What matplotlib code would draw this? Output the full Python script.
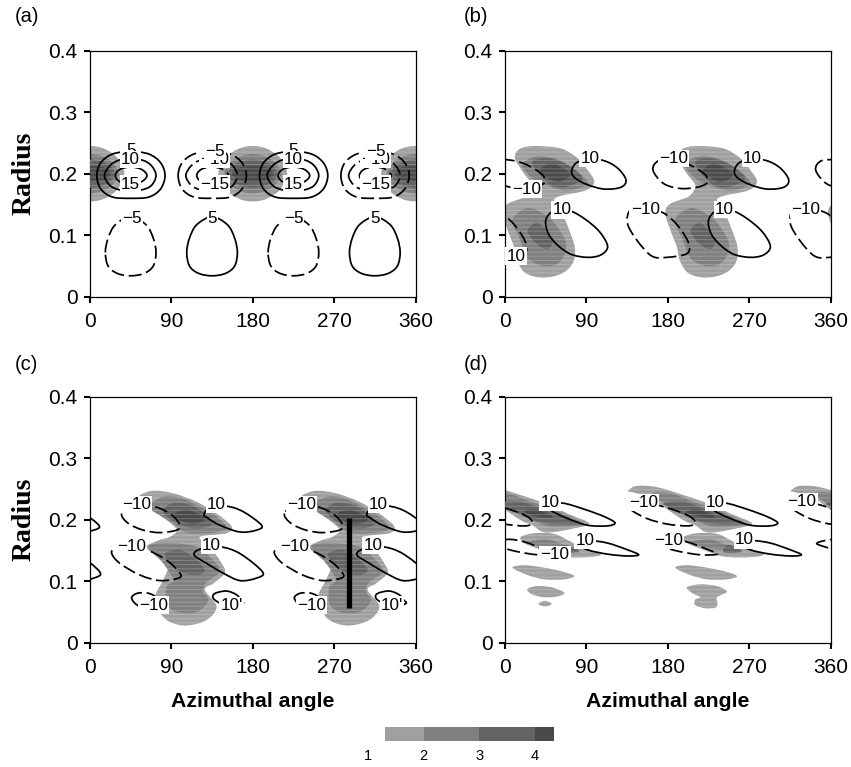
import numpy as np
import matplotlib
matplotlib.use("Agg")
import matplotlib.pyplot as plt
from matplotlib.path import Path
from matplotlib.patches import PathPatch

plt.rcParams['font.family'] = ['Liberation Sans', 'DejaVu Sans']
plt.rcParams['hatch.linewidth'] = 0.7

W, H = 851, 767
SHADES = ['#a0a0a0', '#808080', '#636363', '#4a4a4a']

# outlines are (azimuthal angle, radius)
# panel a
A_FILL_1 = [(142,.2),(150,.226),(165,.241),(180,.245),(195,.241),(210,.226),(218,.2),(210,.174),(195,.159),(180,.155),(165,.159),(150,.174)]
A_FILL_2 = [(148,.2),(156,.219),(168,.229),(180,.232),(192,.229),(204,.219),(212,.2),(204,.181),(192,.171),(180,.168),(168,.171),(156,.181)]
A_FILL_3 = [(153,.2),(160,.215),(180,.223),(200,.215),(207,.2),(200,.185),(180,.177),(160,.185)]
A_FILL_4 = [(157,.2),(165,.21),(180,.213),(195,.21),(203,.2),(195,.19),(180,.187),(165,.19)]
A_UP_5 = [(7.5,.197),(12,.218),(25,.232),(45,.236),(65,.232),(78,.218),(83,.197),(78,.175),(65,.162),(45,.160),(25,.162),(12,.175)]
A_UP_10 = [(16,.197),(22,.213),(32,.222),(45,.224),(58,.222),(68,.213),(73,.197),(68,.181),(58,.174),(45,.172),(32,.174),(22,.181)]
A_UP_15 = [(28,.197),(33,.207),(45,.211),(57,.207),(63,.197),(57,.187),(45,.183),(33,.187)]
A_LOW_5 = [(107,.072),(110,.095),(118,.117),(135,.130),(152,.117),(160,.095),(163,.072),(160,.05),(150,.038),(135,.034),(120,.038),(110,.05)]
A_LABELS = [('5',45,.237),('10',45,.223),('15',45,.183),('5',225,.237),('10',225,.223),('15',225,.183),
            ('\u221210',138,.223),('\u22125',138,.236),('\u221215',138,.183),('\u221210',316,.223),('\u22125',316,.236),('\u221215',316,.183),
            ('\u22125',46,.127),('5',135.5,.127),('\u22125',225,.127),('5',315,.127)]

# panel b
B_FILL_1 = [(191,.225),(196,.24),(212.3,.245),(241.8,.241),(260.3,.225),(271.4,.206),(278.7,.187),(269.5,.173),(241.8,.164),(234.4,.157),(241.8,.141),(251.1,.108),(257.3,.079),(254.8,.054),(241.8,.037),(221.5,.031),(203.1,.038),(193.8,.057),(190,.081),(183,.108),(177.2,.136),(182.8,.151),(202,.162),(208.6,.172),(210.4,.182),(201.2,.2)]
B_FILL_2U = [(199,.214),(208,.225),(221,.228),(240,.222),(258,.204),(272,.185),(260.3,.176),(246,.173),(232,.178),(216.5,.186),(205,.2)]
B_FILL_3U = [(210,.217),(224,.225),(241.8,.22),(256,.208),(266,.193),(254.8,.182),(243,.178),(228,.184)]
B_FILL_4U = [(219,.206),(230,.216),(243,.21),(252,.198),(241,.187),(228,.192)]
B_FILL_2L = [(188,.125),(205.6,.144),(227.5,.13),(240,.109),(247.5,.087),(245,.066),(236,.052),(222,.050),(208.6,.058),(202,.071),(196,.095)]
B_FILL_3L = [(205,.108),(215,.12),(225.2,.108),(232.6,.09),(228,.078),(219.7,.081),(211,.092)]
B_POS = [
    [(253.6,.203),(258.4,.217),(271.4,.224),(289.8,.221),(304.6,.209),(313.8,.190),(308.3,.178),(289.8,.175),(271.4,.182),(258.4,.192)],
    [(225.2,.125),(234.4,.140),(251.1,.140),(267.7,.127),(284.3,.106),(293.5,.082),(286.1,.068),(271.4,.064),(252.9,.069),(238.1,.084),(227.8,.103)],
]
B_NEG = [
    [(163.6,.206),(169.8,.221),(186.4,.222),(204.9,.214),(221.5,.198),(223.4,.185),(212.3,.178),(193.8,.176),(175.4,.184)],
    [(135.5,.119),(145.8,.092),(162.4,.066),(179,.064),(201.2,.070),(203,.087),(192,.114),(175.4,.136),(153.2,.144),(138.5,.141)],
]
B_LABELS = [('10',94,.225),('10',274,.225),('10',62.8,.141),('10',243,.142),('\u221210',24,.175),('\u221210',186.4,.225),
            ('\u221210',155,.142),('10',12.2,.066),('\u221210',332.3,.142)]

# panel c
C_FILL_1 = [(55.3,.240),(70,.247),(92,.243),(118,.229),(140,.210),(156.6,.189),(151,.178),(121.6,.172),(132.7,.156),(145.6,.129),(149,.113),(136,.096),(127,.086),(140,.059),(129,.037),(107,.028),(88,.034),(77,.050),(72,.075),(81,.102),(86,.125),(73.7,.140),(62.6,.156),(77,.167),(88,.172),(96,.183),(85,.199),(66,.218),(55,.232)]
C_FILL_2U = [(64.5,.221),(81,.237),(103,.234),(125,.218),(140,.205),(151,.186),(136,.179),(107,.179),(92,.194),(74,.210)]
C_FILL_3U = [(81,.216),(92,.227),(110.6,.224),(127,.210),(136,.194),(121.6,.186),(105,.189),(88,.202)]
C_FILL_4U = [(94,.210),(107,.216),(121.6,.208),(127,.199),(114,.193),(99.5,.199)]
C_FILL_2M = [(64.5,.156),(84.8,.162),(118,.156),(136,.134),(143.7,.115),(129,.099),(125,.083),(131,.069),(118,.050),(96,.050),(84.8,.064),(84.8,.091),(92,.102),(81,.129)]
C_FILL_3M = [(83,.145),(99.5,.151),(116,.137),(127,.118),(118,.110),(101,.115),(88,.132)]
C_POS = [
    [(126,.208),(132.7,.220),(151,.222),(169.5,.213),(189.8,.191),(184,.183),(165.8,.180),(143.7,.191),(130.8,.202)],
    [(115,.143),(123.4,.153),(143.7,.156),(165.8,.145),(190.9,.115),(184,.105),(165.8,.101),(147.4,.113),(129,.129)],
    [(145.6,.063),(136.4,.072),(138,.080),(151,.084),(162,.078),(166.6,.070),(169.5,.064),(158.5,.059)],
]
C_NEG = [
    [(35,.210),(42.4,.194),(59,.183),(77.4,.179),(95.8,.183),(99.5,.191),(90.3,.208),(71.9,.221),(48,.225)],
    [(24,.145),(33,.129),(55.3,.110),(77.4,.101),(97.7,.105),(99.5,.113),(84.8,.134),(62.6,.151),(40.5,.156),(27.6,.153)],
    [(46,.072),(51.6,.080),(62.6,.081),(71.9,.075),(73.7,.061),(55.3,.059)],
]
C_LABELS = [('\u221210',51.6,.225),('\u221210',234,.225),('10',140,.225),('10',319,.225),('\u221210',46,.156),('\u221210',226,.157),
            ('10',134.5,.158),('10',313,.158),('\u221210',70,.061),('\u221210',245,.061),("10'",156.6,.060),("10'",334,.061)]
C_BAR_ANGLE = 286.7
C_BAR_RADII = [.057, .202]

# panel d
D_FILL_1U = [(136.6,.248),(145.8,.255),(168,.253),(197.5,.240),(223.4,.227),(249.2,.210),(273.2,.194),(256.6,.186),(225.2,.179),(210.4,.191),(197.5,.199),(175.4,.221),(162.4,.235),(145.8,.243),(136.6,.246)]
D_FILL_1L = [(197.5,.172),(212.3,.178),(234.4,.177),(249.2,.167),(264,.156),(286,.144),(271.4,.139),(241.8,.140),(219.7,.151),(201.2,.162)]
D_FILL_2U = [(162.4,.243),(182.8,.243),(208.6,.229),(234.4,.216),(265.8,.194),(245.2,.189),(223.4,.191),(197.5,.208),(175.4,.227)]
D_FILL_3U = [(175.4,.227),(197.5,.229),(219.7,.218),(241.8,.205),(260.3,.194),(234.4,.193),(212.3,.199),(190,.213)]
D_FILL_4U = [(201.2,.213),(212.3,.217),(227,.210),(232.6,.204),(215.3,.205)]
D_FILL_2L = [(206.8,.164),(227,.168),(245.5,.159),(262,.151),(238,.151),(219.7,.156)]
D_FILL_3L = [(247.4,.159),(262,.148),(241.8,.147)]
D_BLOB_REPEAT = [(188.3,.122),(201.2,.126),(223.4,.122),(245.5,.115),(256.6,.108),(245.5,.103),(223.4,.103),(205,.110)]
D_BLOBS_ONCE = [
    [(24.7,.087),(35,.092),(51.7,.090),(65.7,.081),(57.2,.075),(42.5,.074),(29.5,.079)],
    [(36.9,.063),(44.3,.068),(51.7,.063),(44.3,.059)],
    [(201.2,.090),(216,.095),(234.4,.092),(245.5,.083),(234.4,.074),(235,.064),(232.6,.057),(221.5,.056),(210.4,.061),(210.4,.070),(216,.074),(206.8,.081)],
]
D_POS = [
    [(243.7,.227),(267.7,.217),(289.8,.205),(301.6,.195),(293.5,.190),(271.4,.191),(249.2,.202),(230.8,.215),(227,.224)],
    [(273.2,.166),(293.5,.162),(315.6,.151),(327.8,.143),(315.6,.141),(293.5,.144),(271.4,.151),(258.4,.162)],
]
D_NEG = [
    [(138.5,.217),(156.9,.202),(179,.193),(203,.190),(210.4,.196),(201.2,.208),(175.4,.221),(153.2,.229),(140,.225)],
    [(165,.162),(173.5,.156),(193.8,.148),(216,.143),(235,.144),(223.4,.152),(201.2,.164),(182.8,.168)],
]
D_LABELS = [('10',49.8,.228),('10',232.6,.228),('10',88.6,.166),('10',265,.167),('\u221210',55.4,.143),('\u221210',153.2,.228),
            ('\u221210',181,.166),('\u221210',328.6,.229)]

X_TICKS = [0, 90, 180, 270, 360]
Y_TICKS = [0, .1, .2, .3, .4]
Y_TICK_LABELS = ['0', '0.1', '0.2', '0.3', '0.4']
LEGEND_EDGES = [1.3, 2, 3, 4, 4.34]
LEGEND_TICKS = [1, 2, 3, 4]


def smooth_path(points, shift=0):
    # closed Catmull-Rom through the read points
    p = np.array(points, dtype=float)
    p[:, 0] += shift
    n = len(p)
    verts = [p[0]]
    codes = [Path.MOVETO]
    for i in range(n):
        c1 = p[i] + (p[(i + 1) % n] - p[i - 1]) / 6
        c2 = p[(i + 1) % n] - (p[(i + 2) % n] - p[i]) / 6
        verts += [c1, c2, p[(i + 1) % n]]
        codes += [Path.CURVE4] * 3
    return Path(verts, codes)


def add_fill(ax, points, level, shifts=(0,)):
    # faint white scan lines run through the shading in the original
    for s in shifts:
        ax.add_patch(PathPatch(smooth_path(points, s), facecolor=SHADES[level], edgecolor=(1, 1, 1, .22),
                               lw=0, hatch='----', zorder=level + 1))


def add_line(ax, points, shifts=(0,), dashed=False):
    ls = (0, (7.5, 2.7)) if dashed else '-'
    for s in shifts:
        ax.add_patch(PathPatch(smooth_path(points, s), facecolor='none', edgecolor='black', lw=1.25, ls=ls, zorder=6))


def add_labels(ax, labels):
    for text, ang, rad in labels:
        ax.text(ang, rad, text, fontsize=12.3, ha='center', va='center', zorder=7, clip_on=True,
                bbox=dict(facecolor='white', edgecolor='none', pad=0.8))


def make_axes(fig, left, top, tag, tag_x, tag_y, ylabel=False, xlabel=False):
    ax = fig.add_axes([left / W, 1 - (top + 246) / H, 325.5 / W, 246 / H])
    ax.set_xlim(0, 360)
    ax.set_ylim(0, .4)
    ax.set_xticks(X_TICKS)
    ax.set_yticks(Y_TICKS)
    ax.set_yticklabels(Y_TICK_LABELS)
    ax.tick_params(axis='both', labelsize=15, length=4, width=1.5, pad=5)
    ax.tick_params(axis='x', pad=7)
    for s in ax.spines.values():
        s.set_linewidth(0.9)
    ax.set_axisbelow(False)
    fig.text(tag_x / W, 1 - tag_y / H, tag, fontsize=14.5, ha='left', va='center')
    if ylabel:
        fig.text(24 / W, 1 - (top + 123) / H, 'Radius', family=['Liberation Serif'], fontweight='bold', fontsize=20,
                 rotation=90, ha='center', va='center')
    if xlabel:
        ax.set_xlabel('Azimuthal angle', fontsize=15.3, fontweight='bold', labelpad=11)
    return ax


fig = plt.figure(figsize=(W / 100, H / 100), dpi=100)
repeat = (-360, -180, 0, 180)

# (a)
ax = make_axes(fig, 90, 50.7, '(a)', 15, 17, ylabel=True)
for level, pts in enumerate([A_FILL_1, A_FILL_2, A_FILL_3, A_FILL_4]):
    add_fill(ax, pts, level, repeat)
for pts in [A_UP_5, A_UP_10, A_UP_15]:
    add_line(ax, pts, (0, 180))
    add_line(ax, pts, (90, 270), dashed=True)
add_line(ax, A_LOW_5, (0, 180))
add_line(ax, A_LOW_5, (-90, 90), dashed=True)
add_labels(ax, A_LABELS)

# (b)
ax = make_axes(fig, 505, 50.7, '(b)', 464, 17)
add_fill(ax, B_FILL_1, 0, repeat)
add_fill(ax, B_FILL_2U, 1, repeat)
add_fill(ax, B_FILL_2L, 1, repeat)
add_fill(ax, B_FILL_3U, 2, repeat)
add_fill(ax, B_FILL_3L, 2, repeat)
add_fill(ax, B_FILL_4U, 3, repeat)
for pts in B_POS:
    add_line(ax, pts, repeat)
for pts in B_NEG:
    add_line(ax, pts, repeat, dashed=True)
add_labels(ax, B_LABELS)

# (c)
ax = make_axes(fig, 90, 396.7, '(c)', 15, 365, ylabel=True, xlabel=True)
repeat_c = (-180, 0, 180, 360)
add_fill(ax, C_FILL_1, 0, repeat_c)
add_fill(ax, C_FILL_2U, 1, repeat_c)
add_fill(ax, C_FILL_2M, 1, repeat_c)
add_fill(ax, C_FILL_3U, 2, repeat_c)
add_fill(ax, C_FILL_3M, 2, repeat_c)
add_fill(ax, C_FILL_4U, 3, repeat_c)
for pts in C_POS:
    add_line(ax, pts, repeat_c)
for pts in C_NEG:
    add_line(ax, pts, repeat_c, dashed=True)
add_labels(ax, C_LABELS)
ax.plot([C_BAR_ANGLE, C_BAR_ANGLE], C_BAR_RADII, color='black', lw=3.8, solid_capstyle='butt', zorder=8)

# (d)
ax = make_axes(fig, 505, 396.7, '(d)', 464, 365, xlabel=True)
add_fill(ax, D_FILL_1U, 0, repeat)
add_fill(ax, D_FILL_1L, 0, repeat)
add_fill(ax, D_BLOB_REPEAT, 0, repeat)
for pts in D_BLOBS_ONCE:
    add_fill(ax, pts, 0)
add_fill(ax, D_FILL_2U, 1, repeat)
add_fill(ax, D_FILL_2L, 1, repeat)
add_fill(ax, D_FILL_3U, 2, repeat)
add_fill(ax, D_FILL_3L, 2, repeat)
add_fill(ax, D_FILL_4U, 3, repeat)
for pts in D_POS:
    add_line(ax, pts, repeat)
for pts in D_NEG:
    add_line(ax, pts, repeat, dashed=True)
add_labels(ax, D_LABELS)

# shade key
cax = fig.add_axes([368 / W, 1 - 741 / H, 186 / W, 14.3 / H])
cax.barh(0, np.diff(LEGEND_EDGES), left=LEGEND_EDGES[:-1], height=1, color=SHADES)
cax.set_xlim(1, 4.34)
cax.set_ylim(-.5, .5)
cax.set_yticks([])
cax.set_xticks(LEGEND_TICKS)
cax.tick_params(axis='x', length=0, labelsize=10.5, pad=6)
for s in cax.spines.values():
    s.set_visible(False)

fig.savefig('out.png', dpi=100)
